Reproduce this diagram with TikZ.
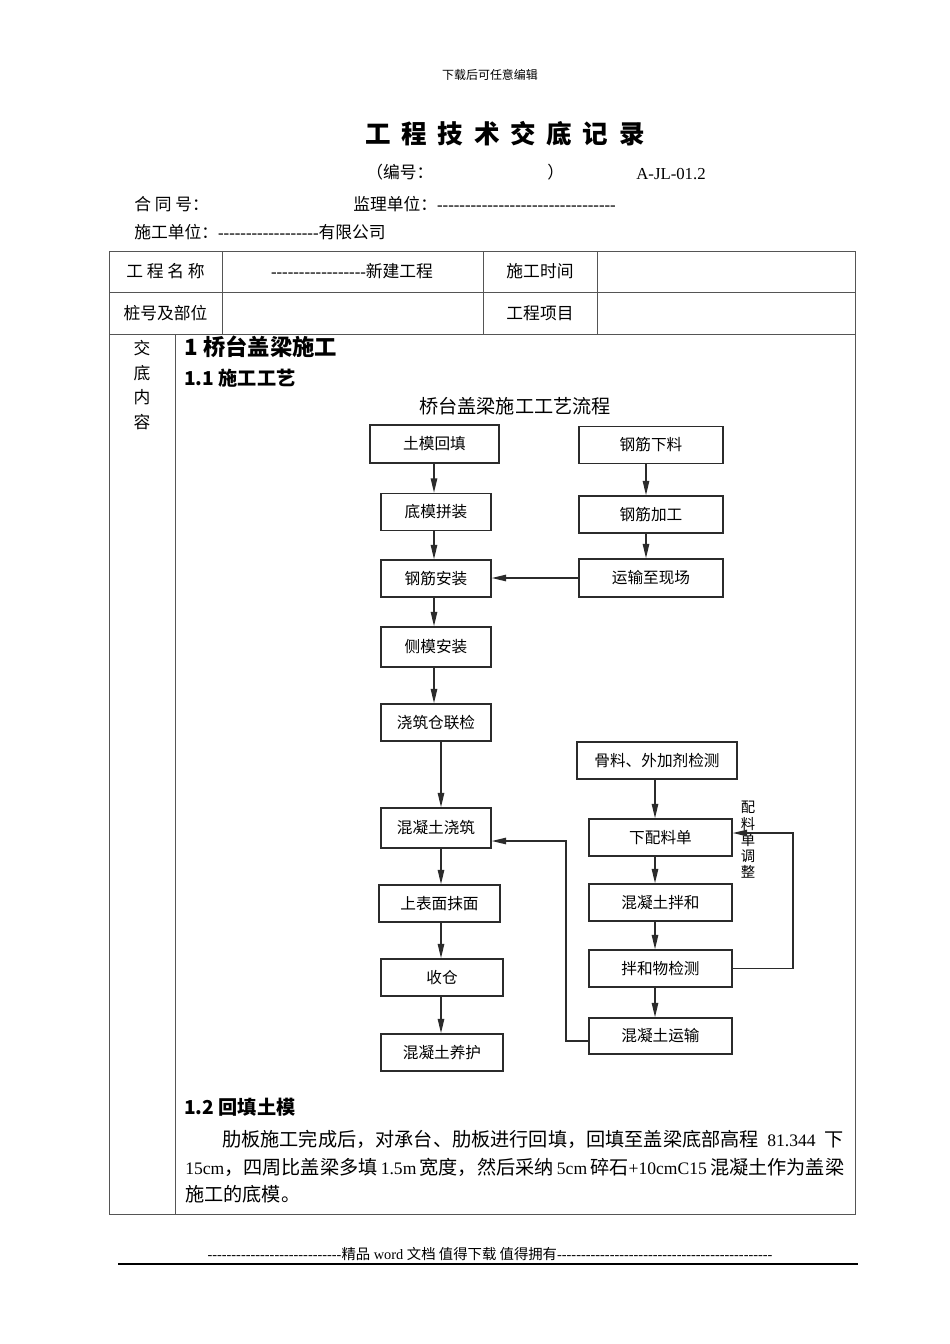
\documentclass[tikz,border=0pt]{standalone}
\usepackage{fontspec}
\setmainfont{Noto Sans CJK SC}
\newfontfamily\latn{Liberation Serif}[Ligatures=TeXOff]
\usetikzlibrary{arrows.meta}
\XeTeXlinebreaklocale "zh"
\XeTeXlinebreakskip=0pt plus 2pt minus 0.3pt
\definecolor{boxline}{HTML}{2B2B2B}
\definecolor{tabline}{HTML}{555555}
\tikzset{
  cell/.style={inner sep=0pt,font=\fontsize{10.5}{12}\selectfont},
  txt/.style={anchor=west,inner sep=0pt,font=\fontsize{10.5}{12}\selectfont},
  proc/.style={draw=boxline,line width=0.9pt,inner sep=0pt,minimum width=#1*0.6263pt,
    minimum height=37*0.6263pt,font=\fontsize{9.8}{11}\selectfont},
  arr/.style={-{Triangle[length=9pt,width=4pt]},draw=boxline,line width=0.9pt},
  rule/.style={draw=tabline,line width=0.6pt},
}
\newcommand{\lnum}[1]{{\latn\fontsize{11}{14}\selectfont#1}}

\begin{document}
\begin{tikzpicture}[x=0.6263pt,y=-0.6263pt]
\useasboundingbox (0,0) rectangle (950,1344);
\fill[white] (0,0) rectangle (950,1344);
% page head
\node[inner sep=0pt,font=\fontsize{7.5}{9}\selectfont] (hdr) at (490,75) {下载后可任意编辑};
\node[inner sep=0pt,font=\fontsize{16}{19}\selectfont\bfseries\addfontfeature{LetterSpace=42}] (ttl) at (505,134) {工程技术交底记录};
\node[txt] (bh) at (366,172) {（编号：};
\node[txt] (bhr) at (547,172) {）};
\node[txt,font=\latn\fontsize{10.5}{12}\selectfont] (bhno) at (636,174) {A-JL-01.2};
\node[txt] (hth) at (134,204) {合 同 号：};
\node[txt] (jldw) at (353,204) {监理单位：{\latn --------------------------------}};
\node[txt] (sgdw) at (134,232) {施工单位：{\latn ------------------}有限公司};
% table
\draw[rule] (109,251) rectangle (855,1214);
\draw[rule] (109,292) -- (855,292);
\draw[rule] (109,334) -- (855,334);
\draw[rule] (222,251) -- (222,334);
\draw[rule] (483,251) -- (483,334);
\draw[rule] (597,251) -- (597,334);
\draw[rule] (175,334) -- (175,1214);
\node[cell] (gcmc) at (165.5,271) {工 程 名 称};
\node[cell] (xjgc) at (352,271) {{\latn -----------------}新建工程};
\node[cell] (sgsj) at (540,271) {施工时间};
\node[cell] (zhbw) at (165.5,313) {桩号及部位};
\node[cell] (gcxm) at (540,313) {工程项目};
\node[cell,align=center,font=\fontsize{10.5}{15.5}\selectfont] (jdnr) at (142,385) {交\\底\\内\\容};
% headings
\node[txt,font=\fontsize{14}{16}\selectfont\bfseries] (h1) at (184,347) {1 桥台盖梁施工};
\node[txt,font=\fontsize{12}{14}\selectfont\bfseries] (h11) at (184,378) {1.1 施工工艺};
\node[inner sep=0pt,font=\fontsize{12}{14}\selectfont] (lctt) at (515,406) {桥台盖梁施工工艺流程};
% flow boxes
\node[proc=129,minimum height=38*0.6263pt] (tmht) at (434.5,444) {土模回填};
\node[proc=110] (dmpz) at (436,512) {底模拼装};
\node[proc=110] (gjaz) at (436,578.5) {钢筋安装};
\node[proc=110,minimum height=40*0.6263pt] (cmaz) at (436,647) {侧模安装};
\node[proc=110] (jzlj) at (436,722.5) {浇筑仓联检};
\node[proc=110,minimum height=40*0.6263pt] (hnjz) at (436,828) {混凝土浇筑};
\node[proc=121] (smmm) at (439.5,903.5) {上表面抹面};
\node[proc=122] (shc) at (442,977.5) {收仓};
\node[proc=122] (hnyh) at (442,1052.5) {混凝土养护};
\node[proc=144] (gjxl) at (651,445) {钢筋下料};
\node[proc=144] (gjjg) at (651,514.5) {钢筋加工};
\node[proc=144,minimum height=38*0.6263pt] (ysxc) at (651,578) {运输至现场};
\node[proc=160] (glwj) at (657,760.5) {骨料、外加剂检测};
\node[proc=143] (xpld) at (660.5,837.5) {下配料单};
\node[proc=143] (hnbh) at (660.5,902.5) {混凝土拌和};
\node[proc=143] (bhjc) at (660.5,968.5) {拌和物检测};
\node[proc=143,minimum height=36*0.6263pt] (hnys) at (660.5,1036) {混凝土运输};
\node[inner sep=0pt,align=center,font=\fontsize{9}{10.2}\selectfont] (pltz) at (748,840) {配\\料\\单\\调\\整};
% arrow columns
\coordinate (ul) at (434,0);
\coordinate (ll) at (441,0);
\coordinate (ur) at (646,0);
\coordinate (lr) at (655,0);
\coordinate (fb) at (793,833);
\coordinate (rt) at (566,841);
\draw[arr] (tmht.south -| ul) -- (dmpz.north -| ul);
\draw[arr] (dmpz.south -| ul) -- (gjaz.north -| ul);
\draw[arr] (gjaz.south -| ul) -- (cmaz.north -| ul);
\draw[arr] (cmaz.south -| ul) -- (jzlj.north -| ul);
\draw[arr] (jzlj.south -| ll) -- (hnjz.north -| ll);
\draw[arr] (hnjz.south -| ll) -- (smmm.north -| ll);
\draw[arr] (smmm.south -| ll) -- (shc.north -| ll);
\draw[arr] (shc.south -| ll) -- (hnyh.north -| ll);
\draw[arr] (gjxl.south -| ur) -- (gjjg.north -| ur);
\draw[arr] (gjjg.south -| ur) -- (ysxc.north -| ur);
\draw[arr] (ysxc.west) -- (ysxc.west -| gjaz.east);
\draw[arr] (glwj.south -| lr) -- (xpld.north -| lr);
\draw[arr] (xpld.south -| lr) -- (hnbh.north -| lr);
\draw[arr] (hnbh.south -| lr) -- (bhjc.north -| lr);
\draw[arr] (bhjc.south -| lr) -- (hnys.north -| lr);
\draw[arr] (bhjc.east) -| (fb) -- (fb -| xpld.east);
\draw[arr] ([yshift=-3pt]hnys.west) -| (rt) -- (rt -| hnjz.east);
% 1.2
\node[txt,font=\fontsize{12}{14}\selectfont\bfseries] (h12) at (184,1107) {1.2 回填土模};
\node[txt,font=\fontsize{12}{14}\selectfont] (p1) at (222,1139) {\makebox[388.9pt][s]{肋板施工完成后，对承台、肋板进行回填，回填至盖梁底部高程{\latn\ }\lnum{81.344}{\latn\ }下}};
\node[txt,font=\fontsize{12}{14}\selectfont] (p2) at (185,1167) {\makebox[412.1pt][s]{\lnum{15cm}，四周比盖梁多填\,\lnum{1.5m}\,宽度，然后采纳\,\lnum{5cm}\,碎石\lnum{+10cmC15}\,混凝土作为盖梁}};
\node[txt,font=\fontsize{12}{14}\selectfont] (p3) at (185,1194) {施工的底模。};
% page foot
\node[inner sep=0pt,font=\fontsize{9}{11}\selectfont] (ftr) at (490,1254) {{\latn ----------------------------}精品{\latn\ word }文档 值得下载 值得拥有{\latn ---------------------------------------------}};
\draw[line width=1.1pt] (118,1264) -- (858,1264);
\end{tikzpicture}
\end{document}
